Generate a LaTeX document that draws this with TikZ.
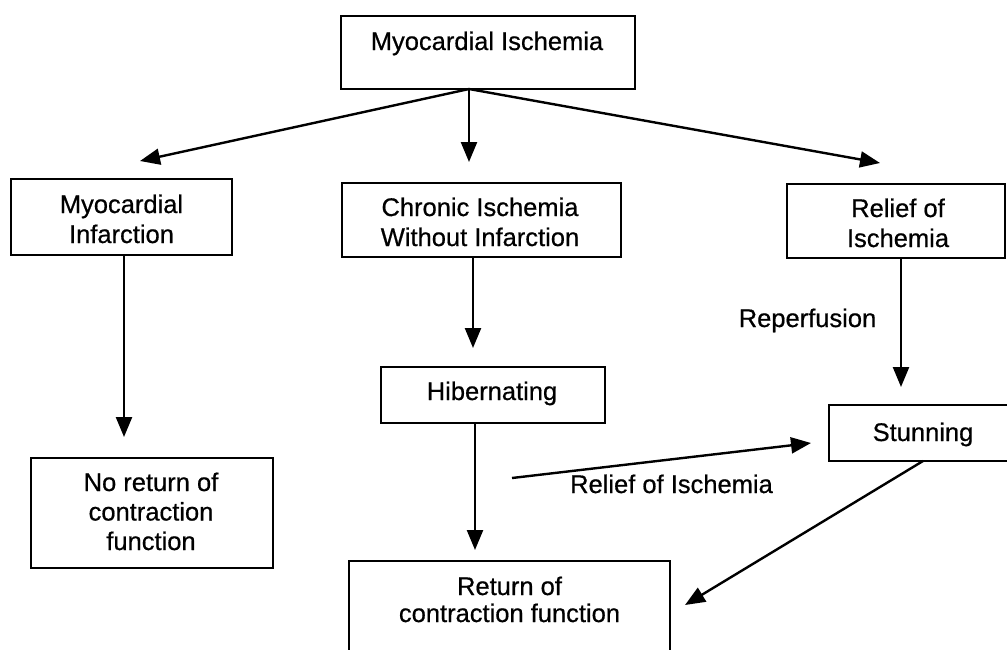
\documentclass[tikz,border=0pt]{standalone}
\usepackage{fontspec}
\setmainfont{Liberation Sans}[FakeBold=0.6]
\usetikzlibrary{arrows.meta}
\begin{document}
\begin{tikzpicture}[x=1pt,y=-1pt,
  box/.style={draw, line width=2.6pt, inner sep=0pt, outer sep=0pt},
  txt/.style={anchor=base, align=center, inner sep=0pt, font=\fontsize{25.5}{30}\selectfont},
  arr/.style={line width=2.4pt, -{Triangle[length=20pt,width=16pt]}}]
\useasboundingbox (0,0) rectangle (1007,649);
\clip (0,0) rectangle (1007,649);
% boxes
\node[box, minimum width=294pt, minimum height=73pt] (mi) at (488,52.5) {};
\node[box, minimum width=221pt, minimum height=76pt] (minf) at (121.5,217) {};
\node[box, minimum width=279pt, minimum height=74pt] (chr) at (481.5,220) {};
\node[box, minimum width=218pt, minimum height=74pt] (rel) at (896,221) {};
\node[box, minimum width=224pt, minimum height=56pt] (hib) at (493,395) {};
\node[box, minimum width=188pt, minimum height=56pt] (stun) at (923,433) {};
\node[box, minimum width=242pt, minimum height=110pt] (nr) at (152,513) {};
\node[box, minimum width=321pt, minimum height=159pt] (ret) at (509.5,640.5) {};
% texts (base anchor = baseline of the last line)
\node[txt] (mi-t) at (487,50) {Myocardial Ischemia};
\node[txt] (minf-t) at (121.5,243) {Myocardial\\Infarction};
\node[txt] (chr-t) at (480,246) {Chronic Ischemia\\Without Infarction};
\node[txt] (rel-t) at (898,247) {Relief of\\Ischemia};
\node[txt] (hib-t) at (492,400) {Hibernating};
\node[txt] (stun-t) at (923,441) {Stunning};
\node[txt, font=\fontsize{25.5}{29.5}\selectfont] (nr-t) at (151,550) {No return of\\contraction\\function};
\node[txt, font=\fontsize{25.5}{27}\selectfont] (ret-t) at (509.5,622) {Return of\\contraction function};
\node[txt] (rep) at (807.5,327) {Reperfusion};
\node[txt] (roi) at (671.5,493) {Relief of Ischemia};
% connectors
\coordinate (hub) at (469,89);
\coordinate (t1) at (140,161);
\coordinate (t2) at (469,162);
\coordinate (t3) at (880,163);
\coordinate (t4) at (124,437);
\coordinate (t5) at (473,348);
\coordinate (t6) at (901,387);
\coordinate (t7) at (475,550);
\coordinate (s8) at (512,478);
\coordinate (t8) at (811,443);
\coordinate (t9) at (685,605);
\draw[arr] (hub) -- (t1);
\draw[arr] (hub) -- (t2);
\draw[arr] (hub) -- (t3);
\draw[arr] (minf.south -| t4) -- (t4);
\draw[arr] (chr.south -| t5) -- (t5);
\draw[arr] (rel.south -| t6) -- (t6);
\draw[arr] (hib.south -| t7) -- (t7);
\draw[arr] (s8) -- (t8);
\draw[arr] (stun.south) -- (t9);
\end{tikzpicture}
\end{document}
